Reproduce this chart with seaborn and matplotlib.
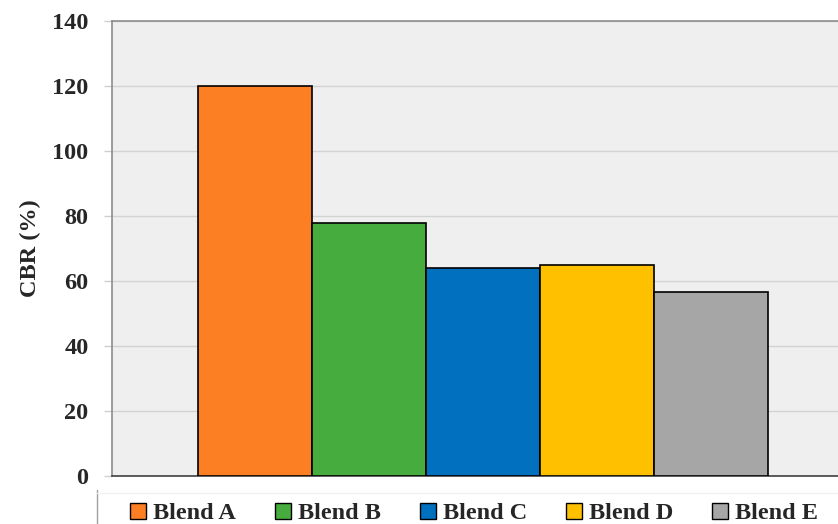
import matplotlib
matplotlib.use("Agg")
import matplotlib.pyplot as plt
import seaborn as sns
import pandas as pd
from matplotlib.patches import Patch
from matplotlib.lines import Line2D

# CBR results per blend
blends = ["Blend A", "Blend B", "Blend C", "Blend D", "Blend E"]
cbr = [120, 78, 64, 65, 56.6]
colors = ["#FD7F23", "#46AC3D", "#0070BF", "#FFC000", "#A6A6A6"]
yticks = [0, 20, 40, 60, 80, 100, 120, 140]

df = pd.DataFrame({"blend": blends, "cbr": cbr})

sns.set_style("white")
plt.rcParams["font.family"] = ["Liberation Serif", "DejaVu Serif"]

fig = plt.figure(figsize=(8.38, 5.24), dpi=100)
ax = fig.add_axes([0.1337, 0.0916, 0.8663, 0.8683])
ax.set_facecolor("#EFEFEF")

sns.barplot(data=df, x="blend", y="cbr", hue="blend", palette=colors,
            saturation=1, width=1.0, dodge=False, legend=False,
            edgecolor="black", linewidth=1.2, ax=ax, zorder=3)

ax.set_xlim(-1.254, 5.114)
ax.set_ylim(0, 140)
ax.set_yticks(yticks)
ax.set_yticklabels([str(t) for t in yticks], fontsize=17.5, fontweight="bold")
ax.set_xticks([])
ax.set_xlabel("")
ax.set_ylabel("CBR (%)", fontsize=17.5, fontweight="bold", labelpad=8)

ax.yaxis.grid(True, color="#D2D2D2", linewidth=1.0, zorder=0)
ax.set_axisbelow(True)
ax.tick_params(axis="y", length=6, width=1.0, color="#CFCFCF", pad=11, left=True)

for side in ["left", "top"]:
    ax.spines[side].set_color("#8C8C8C")
    ax.spines[side].set_linewidth(1.2)
ax.spines["bottom"].set_color("#404040")
ax.spines["bottom"].set_linewidth(1.2)
ax.spines["right"].set_visible(False)

handles = [Patch(facecolor=c, edgecolor="black", linewidth=1.0, label=b)
           for b, c in zip(blends, colors)]
fig.legend(handles=handles, loc="center", bbox_to_anchor=(0.566, 0.020),
           ncol=5, frameon=False, prop={"size": 17.5, "weight": "bold"},
           handlelength=0.65, handleheight=0.65, handletextpad=0.3,
           columnspacing=1.6)

# thin frame edges around the legend row
fig.add_artist(Line2D([97 / 838, 97 / 838], [0, 1 - 490 / 524],
                      color="#A0A0A0", linewidth=1.0))
fig.add_artist(Line2D([97 / 838, 1], [1 - 493 / 524, 1 - 493 / 524],
                      color="#F2F2F2", linewidth=1.0))

fig.savefig("out.png", dpi=100)
